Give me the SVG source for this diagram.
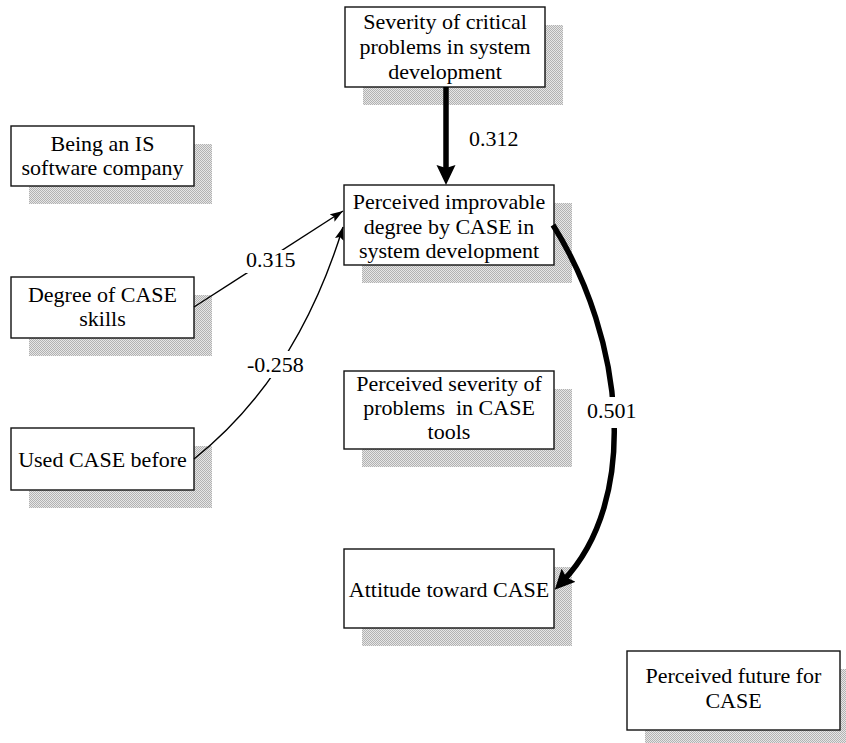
<svg xmlns="http://www.w3.org/2000/svg" width="846" height="743" viewBox="0 0 846 743">
  <style>
    .box { fill: #ffffff; stroke: #111111; stroke-width: 1.4; }
    .shadow { fill: url(#dither); }
    text { font-size: 22px; fill: #000000; }
    .lbl { text-anchor: middle; }
    .thin { fill: none; stroke: #000000; stroke-width: 1.4; }
    .thick { fill: none; stroke: #000000; stroke-width: 5.5; }
    .gap { fill: #ffffff; }
  </style>
  <defs>
    <pattern id="dither" width="2" height="2" patternUnits="userSpaceOnUse">
      <rect width="2" height="2" fill="#e6e6e6"/>
      <rect width="1" height="1" fill="#b2b2b2"/>
      <rect x="1" y="1" width="1" height="1" fill="#b2b2b2"/>
    </pattern>
    <marker id="headThin" viewBox="0 0 13 9" refX="13" refY="4.5" markerWidth="13" markerHeight="9" markerUnits="userSpaceOnUse" orient="auto">
      <path d="M0,0 L13,4.5 L0,9 L2.5,4.5 z" fill="#000000"/>
    </marker>
    <marker id="headThick" viewBox="0 0 20 20" refX="8" refY="10" markerWidth="20" markerHeight="20" markerUnits="userSpaceOnUse" orient="auto">
      <path d="M0,0.5 L20,10 L0,19.5 L3,10 z" fill="#000000"/>
    </marker>
  </defs>

  <rect width="846" height="743" fill="#ffffff"/>

  <g font-family="Liberation Serif, DejaVu Serif, serif">
  <!-- nodes -->
  <g id="severity-critical">
    <rect class="shadow" x="363" y="25" width="200" height="80"/>
    <rect class="box" x="345" y="7" width="200" height="80"/>
    <text class="lbl" x="445" y="29">Severity of critical</text>
    <text class="lbl" x="445" y="54">problems in system</text>
    <text class="lbl" x="445" y="79">development</text>
  </g>

  <g id="perceived-improvable">
    <rect class="shadow" x="362" y="203" width="210" height="80"/>
    <rect class="box" x="344" y="185" width="210" height="80"/>
    <text class="lbl" x="449" y="209">Perceived improvable</text>
    <text class="lbl" x="449" y="234">degree by CASE in</text>
    <text class="lbl" x="449" y="258">system development</text>
  </g>

  <g id="is-software-company">
    <rect class="shadow" x="29" y="144" width="183" height="60"/>
    <rect class="box" x="11" y="126" width="183" height="60"/>
    <text class="lbl" x="102.5" y="151">Being an IS</text>
    <text class="lbl" x="102.5" y="175">software company</text>
  </g>

  <g id="case-skills">
    <rect class="shadow" x="29" y="295" width="183" height="61"/>
    <rect class="box" x="11" y="277" width="183" height="61"/>
    <text class="lbl" x="102.5" y="302">Degree of CASE</text>
    <text class="lbl" x="102.5" y="326">skills</text>
  </g>

  <g id="used-case-before">
    <rect class="shadow" x="29" y="446" width="183" height="62"/>
    <rect class="box" x="11" y="428" width="183" height="62"/>
    <text class="lbl" x="102.5" y="467">Used CASE before</text>
  </g>

  <g id="severity-case-tools">
    <rect class="shadow" x="362" y="389" width="210" height="78"/>
    <rect class="box" x="344" y="371" width="210" height="78"/>
    <text class="lbl" x="449" y="391">Perceived severity of</text>
    <text class="lbl" x="449" y="415" xml:space="preserve">problems  in CASE</text>
    <text class="lbl" x="449" y="439">tools</text>
  </g>

  <g id="attitude">
    <rect class="shadow" x="362" y="567" width="210" height="79"/>
    <rect class="box" x="344" y="549" width="210" height="79"/>
    <text class="lbl" x="449" y="597">Attitude toward CASE</text>
  </g>

  <g id="future-for-case">
    <rect class="shadow" x="645" y="669" width="213" height="79"/>
    <rect class="box" x="627" y="651" width="213" height="79"/>
    <text class="lbl" x="733.5" y="683">Perceived future for</text>
    <text class="lbl" x="733.5" y="708">CASE</text>
  </g>

  <!-- connectors -->
  <g id="connectors">
    <line class="thick" x1="446" y1="87" x2="446" y2="173" marker-end="url(#headThick)"/>
    <text x="469" y="146">0.312</text>

    <line class="thin" x1="194" y1="307" x2="343" y2="211" marker-end="url(#headThin)"/>
    <rect class="gap" x="245" y="250" width="47" height="23"/>
    <text x="246" y="267">0.315</text>

    <path class="thin" d="M194,459 Q297,377 343,227" marker-end="url(#headThin)"/>
    <rect class="gap" x="246" y="351" width="63" height="27"/>
    <text x="247" y="372">-0.258</text>

    <path class="thick" d="M553,225 C625,340 640,500 563,581" marker-end="url(#headThick)"/>
    <rect class="gap" x="586" y="397" width="50" height="31"/>
    <text x="587" y="418">0.501</text>
  </g>
  </g>
</svg>
